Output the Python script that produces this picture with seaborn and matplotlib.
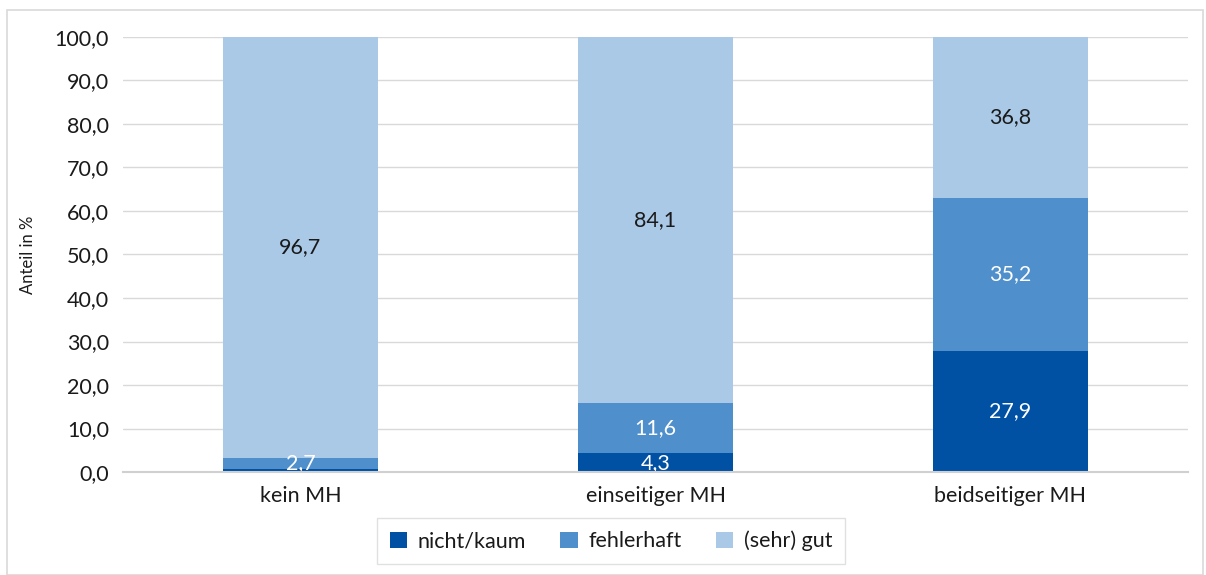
import matplotlib
matplotlib.use("Agg")
import matplotlib.pyplot as plt
import seaborn as sns
import numpy as np
import pandas as pd
from matplotlib.patches import Rectangle

categories = ["kein MH", "einseitiger MH", "beidseitiger MH"]
series_names = ["nicht/kaum", "fehlerhaft", "(sehr) gut"]
nicht_kaum = [0.6, 4.3, 27.9]
fehlerhaft = [2.7, 11.6, 35.2]
sehr_gut = [96.7, 84.1, 36.8]
y_ticks = [0, 10, 20, 30, 40, 50, 60, 70, 80, 90, 100]

colors = ["#0050A4", "#4F8FCC", "#A9C9E7"]
text_colors = ["white", "white", "#1a1a1a"]

sns.set_theme(style="white")
plt.rcParams["font.family"] = ["Lato", "DejaVu Sans"]

fig = plt.figure(figsize=(12.06, 5.75), dpi=100)
ax = fig.add_axes([123 / 1206, 1 - 472 / 575, 1065 / 1206, 435 / 575])

# outer frame around the whole chart
fig.patches.append(Rectangle((7 / 1206, 0), 1196 / 1206, 1 - 10 / 575,
                             transform=fig.transFigure, fill=False,
                             edgecolor="#d9d9d9", linewidth=1.2))

series = [nicht_kaum, fehlerhaft, sehr_gut]
bottom = np.zeros(len(categories))
for name, vals, col, tcol in zip(series_names, series, colors, text_colors):
    df = pd.DataFrame({"cat": categories, "val": vals})
    sns.barplot(data=df, x="cat", y="val", bottom=bottom, color=col,
                width=0.434, ax=ax, label=name, saturation=1, zorder=2,
                linewidth=0, edgecolor="none")
    for i, v in enumerate(vals):
        if v >= 2:
            ax.text(i, bottom[i] + v / 2, f"{v:.1f}".replace(".", ","),
                    ha="center", va="center", fontsize=15.5, color=tcol, zorder=4)
    bottom = bottom + np.array(vals)

ax.set_xlim(-0.5, 2.5)
ax.set_ylim(0, 100)
ax.set_yticks(y_ticks)
ax.set_yticklabels([f"{t:.1f}".replace(".", ",") for t in y_ticks], fontsize=15.5, color="#1a1a1a")
ax.tick_params(axis="x", labelsize=15.5, colors="#1a1a1a", pad=10, length=0)
ax.tick_params(axis="y", pad=10, length=0)
ax.set_xlabel("")
ax.set_ylabel("Anteil in %", fontsize=12, color="#1a1a1a", labelpad=8)
ax.yaxis.set_label_coords(-0.082, 0.5)
ax.grid(axis="y", color="#d9d9d9", linewidth=1, zorder=0)
ax.set_axisbelow(True)
for s in ["top", "right", "left"]:
    ax.spines[s].set_visible(False)
ax.spines["bottom"].set_color("#d0d0d0")
ax.spines["bottom"].set_linewidth(1.5)
ax.spines["bottom"].set_zorder(5)

leg = ax.legend(loc="center", bbox_to_anchor=(611 / 1206, 1 - 541 / 575),
                bbox_transform=fig.transFigure, ncol=3, frameon=True,
                fontsize=15.5, handlelength=0.8, handleheight=0.8,
                columnspacing=1.6, handletextpad=0.5, fancybox=False,
                borderpad=0.6)
leg.get_frame().set_edgecolor("#d9d9d9")
leg.get_frame().set_linewidth(1)
for t in leg.get_texts():
    t.set_color("#1a1a1a")

fig.savefig("out.png", dpi=100)
